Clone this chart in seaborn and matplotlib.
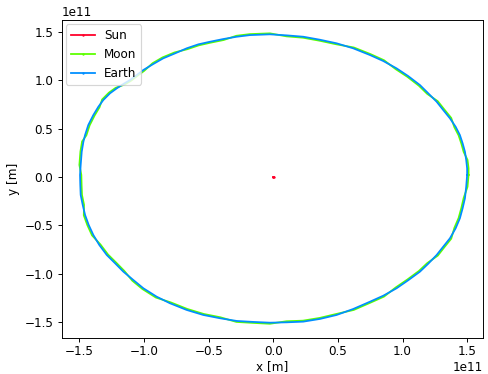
import numpy as np
import pandas as pd
import matplotlib
matplotlib.use("Agg")
import matplotlib.pyplot as plt
import seaborn as sns

SCALE = 1e11  # metres per unit used in the arrays below

sun_x = [0.0, 0.001, 0.002]
sun_y = [0.0, 0.0, 0.0]

earth_x = [1.500, 1.500, 1.493, 1.483, 1.465, 1.444, 1.411, 1.367, 1.315, 1.264,
           1.199, 1.135, 1.044, 0.954, 0.851, 0.748, 0.619, 0.490, 0.361, 0.232,
           0.104, -0.026, -0.180, -0.283, -0.387, -0.490, -0.580, -0.670, -0.760, -0.851,
           -0.928, -1.005, -1.056, -1.108, -1.160, -1.211, -1.263, -1.315, -1.353, -1.392,
           -1.431, -1.456, -1.469, -1.482, -1.490, -1.495, -1.493, -1.490, -1.474, -1.456,
           -1.428, -1.392, -1.346, -1.288, -1.224, -1.160, -1.083, -1.005, -0.902, -0.799,
           -0.670, -0.541, -0.412, -0.283, -0.155, -0.026, 0.104, 0.232, 0.361, 0.490,
           0.619, 0.748, 0.851, 0.954, 1.044, 1.135, 1.199, 1.264, 1.315, 1.367,
           1.411, 1.444, 1.465, 1.483, 1.493, 1.500]
earth_y = [0.021, 0.090, 0.176, 0.262, 0.349, 0.434, 0.520, 0.607, 0.693, 0.779,
           0.866, 0.951, 1.044, 1.124, 1.200, 1.262, 1.331, 1.383, 1.420, 1.451,
           1.465, 1.476, 1.468, 1.451, 1.427, 1.399, 1.372, 1.331, 1.279, 1.228,
           1.169, 1.107, 1.055, 1.003, 0.962, 0.917, 0.866, 0.796, 0.727, 0.641,
           0.538, 0.434, 0.365, 0.262, 0.124, 0.021, -0.083, -0.186, -0.290, -0.393,
           -0.496, -0.600, -0.703, -0.807, -0.892, -0.979, -1.065, -1.151, -1.238, -1.306,
           -1.375, -1.427, -1.461, -1.489, -1.499, -1.507, -1.503, -1.496, -1.468, -1.427,
           -1.365, -1.290, -1.228, -1.151, -1.068, -0.979, -0.897, -0.807, -0.721, -0.634,
           -0.531, -0.427, -0.324, -0.220, -0.100, 0.021]

moon_x = [1.511, 1.511, 1.503, 1.473, 1.455, 1.434, 1.401, 1.377, 1.324, 1.273,
          1.191, 1.127, 1.037, 0.947, 0.857, 0.753, 0.623, 0.487, 0.358, 0.230,
          0.103, -0.026, -0.181, -0.285, -0.384, -0.487, -0.576, -0.665, -0.765, -0.857,
          -0.934, -0.998, -1.049, -1.100, -1.152, -1.219, -1.272, -1.324, -1.344, -1.382,
          -1.421, -1.446, -1.479, -1.492, -1.500, -1.485, -1.483, -1.480, -1.464, -1.466,
          -1.438, -1.402, -1.337, -1.279, -1.215, -1.152, -1.091, -1.012, -0.908, -0.793,
          -0.665, -0.537, -0.409, -0.285, -0.156, -0.026, 0.103, 0.230, 0.358, 0.487,
          0.623, 0.753, 0.857, 0.947, 1.037, 1.127, 1.191, 1.273, 1.324, 1.377,
          1.401, 1.434, 1.455, 1.473, 1.503, 1.511]
moon_y = [0.021, 0.091, 0.177, 0.260, 0.347, 0.431, 0.516, 0.611, 0.698, 0.784,
          0.860, 0.944, 1.037, 1.116, 1.208, 1.271, 1.340, 1.373, 1.410, 1.441,
          1.455, 1.486, 1.478, 1.461, 1.417, 1.389, 1.362, 1.322, 1.288, 1.237,
          1.177, 1.099, 1.048, 0.996, 0.955, 0.923, 0.872, 0.802, 0.722, 0.637,
          0.534, 0.431, 0.368, 0.264, 0.125, 0.021, -0.082, -0.185, -0.288, -0.396,
          -0.499, -0.604, -0.698, -0.801, -0.886, -0.972, -1.072, -1.159, -1.247, -1.297,
          -1.365, -1.417, -1.451, -1.499, -1.509, -1.518, -1.492, -1.486, -1.458, -1.417,
          -1.375, -1.299, -1.237, -1.143, -1.061, -0.972, -0.891, -0.813, -0.726, -0.638,
          -0.527, -0.424, -0.322, -0.218, -0.101, 0.021]

names = ["Sun", "Moon", "Earth"]
colors = ["#ff0029", "#5cff00", "#008fff"]

dpi = 86
fig = plt.figure(figsize=(488 / dpi, 374 / dpi), dpi=dpi)
ax = fig.add_axes([0.1264, 0.0971, 0.989 - 0.1264, 0.9465 - 0.0971])

series = [(sun_x, sun_y), (moon_x, moon_y), (earth_x, earth_y)]
for name, col, (xs, ys) in zip(names, colors, series):
    df = pd.DataFrame({"x": np.array(xs) * SCALE, "y": np.array(ys) * SCALE})
    kw = dict(marker=".", markersize=4, markeredgewidth=0) if name == "Sun" else {}
    sns.lineplot(data=df, x="x", y="y", sort=False, estimator=None, ax=ax,
                 color=col, label=name, linewidth=1.5, **kw)

ax.set_xlabel("x [m]", labelpad=2)
ax.set_ylabel("y [m]")
ax.tick_params(axis="x", pad=2.5)
ax.set_xticks(np.array([-1.5, -1.0, -0.5, 0.0, 0.5, 1.0, 1.5]) * SCALE)
ax.set_yticks(np.array([-1.5, -1.0, -0.5, 0.0, 0.5, 1.0, 1.5]) * SCALE)
ax.set_xlim(-1.637 * SCALE, 1.62 * SCALE)
ax.set_ylim(-1.662 * SCALE, 1.624 * SCALE)
leg = ax.legend(loc="upper left", borderaxespad=0.35)
for h in leg.get_lines():
    h.set_marker(".")
    h.set_markersize(4)
    h.set_markeredgewidth(0)

fig.savefig("out.png", dpi=dpi)
